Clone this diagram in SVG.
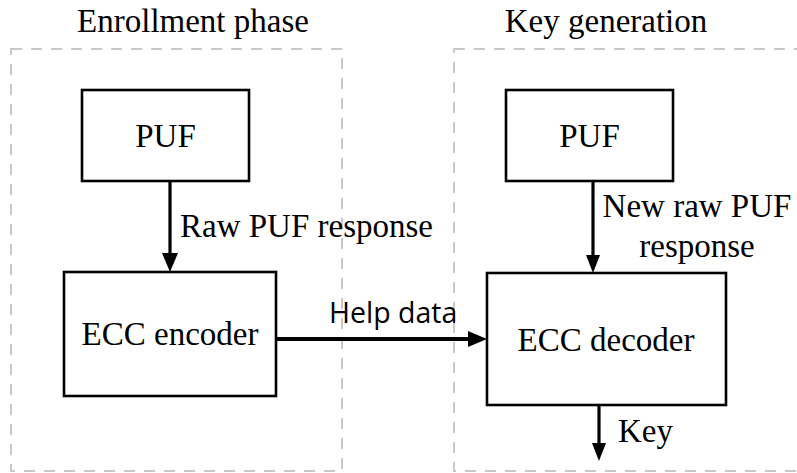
<svg xmlns="http://www.w3.org/2000/svg" width="797" height="473" viewBox="0 0 797 473">
<style>
.bg{fill:#ffffff}
.phase{fill:none;stroke:#c8c8c8;stroke-width:2;stroke-dasharray:11 9}
.box{fill:#ffffff;stroke:#000000;stroke-width:2.6}
.t{font-family:"Liberation Serif","Times New Roman",serif;font-size:33px;fill:#000000}
.s{font-family:"Open Sans","Liberation Sans",sans-serif;font-size:28.5px;fill:#000000}
.c{stroke:#000000;stroke-width:3.2;fill:none}
.thick{stroke-width:4}
</style>
<defs>
<marker id="ah" markerUnits="userSpaceOnUse" markerWidth="19" markerHeight="16" refX="0" refY="8" orient="auto">
<path d="M0,0 L19,8 L0,16 z" fill="#000000"/>
</marker>
<marker id="ahs" markerUnits="userSpaceOnUse" markerWidth="18" markerHeight="14" refX="0" refY="7" orient="auto">
<path d="M0,0 L18,7 L0,14 z" fill="#000000"/>
</marker>
</defs>
<rect class="bg" x="0" y="0" width="797" height="473"/>
<g id="enrollment-phase">
<rect class="phase" x="11" y="49" width="331" height="422"/>
<text class="t" x="193" y="32" text-anchor="middle">Enrollment phase</text>
</g>
<g id="key-generation">
<rect class="phase" x="454" y="49" width="350" height="422"/>
<text class="t" x="606" y="32" text-anchor="middle">Key generation</text>
</g>
<g id="connectors">
<line class="c" x1="170" y1="181" x2="170" y2="253" marker-end="url(#ah)"/>
<line class="c thick" x1="276" y1="339" x2="468" y2="339" marker-end="url(#ah)"/>
<line class="c" x1="593" y1="181" x2="593" y2="255" marker-end="url(#ahs)"/>
<line class="c" x1="599" y1="405" x2="599" y2="443" marker-end="url(#ahs)"/>
<text class="t" x="180" y="237">Raw PUF response</text>
<text class="s" x="329" y="323">Help data</text>
<text class="t" x="697" y="217" text-anchor="middle">New raw PUF</text>
<text class="t" x="697" y="257" text-anchor="middle">response</text>
<text class="t" x="618" y="442">Key</text>
</g>
<g id="puf-enroll">
<rect class="box" x="82" y="90" width="167" height="91"/>
<text class="t" x="165.5" y="147" text-anchor="middle">PUF</text>
</g>
<g id="ecc-encoder">
<rect class="box" x="64" y="272" width="212" height="124"/>
<text class="t" x="170" y="345" text-anchor="middle">ECC encoder</text>
</g>
<g id="puf-keygen">
<rect class="box" x="506" y="90" width="167" height="91"/>
<text class="t" x="589.5" y="147" text-anchor="middle">PUF</text>
</g>
<g id="ecc-decoder">
<rect class="box" x="487" y="273" width="239" height="132"/>
<text class="t" x="606" y="351" text-anchor="middle">ECC decoder</text>
</g>
</svg>
